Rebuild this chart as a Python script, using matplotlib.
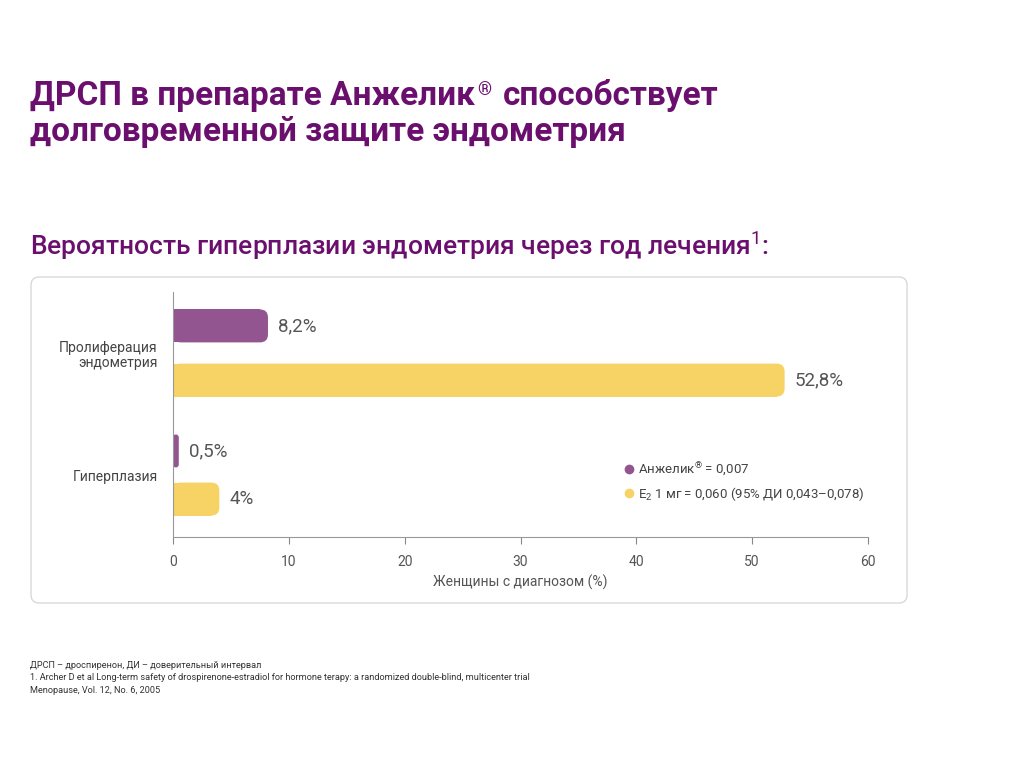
import matplotlib
matplotlib.use("Agg")
import matplotlib.pyplot as plt
from matplotlib.patches import FancyBboxPatch
from matplotlib.lines import Line2D
from matplotlib.text import Annotation

plt.rcParams['font.family'] = ['Roboto', 'DejaVu Sans']
plt.rcParams['mathtext.fontset'] = 'custom'
plt.rcParams['mathtext.rm'] = 'Roboto'
plt.rcParams['mathtext.it'] = 'Roboto'
plt.rcParams['mathtext.bf'] = 'Roboto:bold'

# data
categories = ['Пролиферация\nэндометрия', 'Гиперплазия']
angelique = [8.2, 0.5]
estradiol = [52.8, 4.0]
angelique_labels = ['8,2%', '0,5%']
estradiol_labels = ['52,8%', '4%']
xticks = [0, 10, 20, 30, 40, 50, 60]
legend_labels = ['Анжелик$^{\\mathrm{®}}$ = 0,007', 'E$_{\\mathrm{2}}$ 1 мг = 0,060 (95% ДИ 0,043–0,078)']

PURPLE = '#93558f'
YELLOW = '#f7d264'
TITLE = '#6b0f6f'
GREY = '#555555'

W, H = 1024, 768
fig = plt.figure(figsize=(W / 100, H / 100), dpi=100)
fig.patch.set_facecolor('white')

def px(x, y):
    return x / W, 1 - y / H

# frame
frame = FancyBboxPatch(px(31, 603), (907 - 31) / W, (603 - 277) / H,
                       boxstyle='round,pad=0,rounding_size=0.008',
                       mutation_aspect=W / H, transform=fig.transFigure,
                       facecolor='none', edgecolor='#d9d9d9', linewidth=1.0, zorder=-1)
fig.patches.append(frame)

# title, with a small raised ® between the two pieces of line 1
t1 = fig.text(*px(30, 105), 'ДРСП в препарате Анжелик',
              fontsize=24, fontweight='bold', color=TITLE, va='baseline')
fig.add_artist(Annotation('®', xy=(1, 1), xycoords=t1, xytext=(2, -1), textcoords='offset points',
                          fontsize=13, fontweight='bold', color=TITLE, va='top', ha='left',
                          annotation_clip=False))
fig.add_artist(Annotation('способствует', xy=(1, 0), xycoords=t1, xytext=(20, 0), textcoords='offset points',
                          fontsize=24, fontweight='bold', color=TITLE, va='bottom', ha='left',
                          annotation_clip=False))
fig.text(*px(30, 141), 'долговременной защите эндометрия',
         fontsize=24, fontweight='bold', color=TITLE, va='baseline')
fig.text(*px(30, 255), 'Вероятность гиперплазии эндометрия через год лечения$^{\\mathrm{1}}$:',
         fontsize=19, fontweight='medium', color=TITLE, va='baseline')

ax = fig.add_axes([173 / W, 1 - 537 / H, (868 - 173) / W, (537 - 292) / H])
ax.set_xlim(0, 60)
ax.set_ylim(1.508, -0.5)
ax.patch.set_alpha(0)

xpu = 695 / 60.0
ypu = 122.0
bar_h = 0.27
offsets = [(-0.222, 0.222), (-0.197, 0.197)]
r_px = 8

for i, cat in enumerate(categories):
    for val, lab, col, off in [(angelique[i], angelique_labels[i], PURPLE, offsets[i][0]),
                               (estradiol[i], estradiol_labels[i], YELLOW, offsets[i][1])]:
        y = i + off
        r = min(r_px / xpu, val / 2)
        ax.barh(y, max(val - r, 0), height=bar_h, color=col, linewidth=0)
        p = FancyBboxPatch((0, y - bar_h / 2), val, bar_h,
                           boxstyle='round,pad=0,rounding_size=%f' % r,
                           mutation_aspect=xpu / ypu, facecolor=col, edgecolor='none')
        ax.add_patch(p)
        ax.text(val + 10 / xpu, y, lab, fontsize=13.5, color=GREY, va='center', ha='left')

ax.set_yticks(range(len(categories)))
ax.set_yticklabels(categories, fontsize=10, color='#444444', ha='right', linespacing=1.1)
ax.tick_params(axis='y', length=0, pad=11)
ax.set_xticks(xticks)
ax.set_xticklabels([str(t) for t in xticks], fontsize=10, color=GREY)
ax.tick_params(axis='x', length=5, color='#888888', pad=8, direction='out')
for s in ['top', 'right']:
    ax.spines[s].set_visible(False)
ax.spines['left'].set_color('#999999')
ax.spines['bottom'].set_color('#999999')
ax.set_xlabel('Женщины с диагнозом (%)', fontsize=10, color=GREY, labelpad=4)

handles = [Line2D([], [], marker='o', linestyle='none', markersize=7,
                  markerfacecolor=c, markeredgecolor='none') for c in (PURPLE, YELLOW)]
leg = ax.legend(handles, legend_labels, loc='upper left', bbox_to_anchor=((617 - 173) / 695, (537 - 455) / 245),
                frameon=False, fontsize=9.5, handletextpad=0.2, labelspacing=0.55, handlelength=1.0,
                borderaxespad=0)
for t in leg.get_texts():
    t.set_color('#444444')

foot = ['ДРСП – дроспиренон, ДИ – доверительный интервал',
        '1. Archer D et al Long-term safety of drospirenone-estradiol for hormone terapy: a randomized double-blind, multicenter trial',
        'Menopause, Vol. 12, No. 6, 2005']
for k, line in enumerate(foot):
    fig.text(*px(30, 668 + k * 12.5), line, fontsize=6.6, color='#333333', va='baseline')

fig.savefig('out.png', dpi=100, facecolor='white')
